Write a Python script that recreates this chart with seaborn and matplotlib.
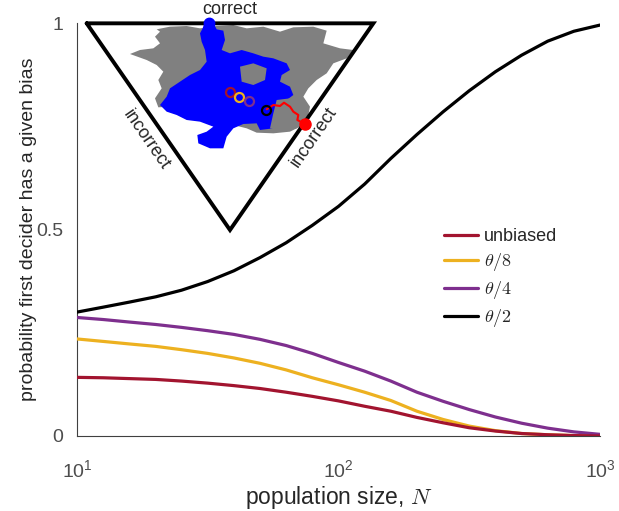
import numpy as np
import pandas as pd
import seaborn as sns
import matplotlib.pyplot as plt

sns.set_style('white')
plt.rcParams['font.family'] = ['Liberation Sans', 'DejaVu Sans']
plt.rcParams['mathtext.fontset'] = 'cm'

# curve data
N = [10, 12.6, 15.8, 20, 25.1, 31.6, 39.8, 50.1, 63.1, 79.4, 100,
     125.9, 158.5, 199.5, 251.2, 316.2, 398.1, 501.2, 631, 794.3, 1000]
unbiased = [0.142, 0.141, 0.139, 0.137, 0.133, 0.128, 0.122, 0.115, 0.106, 0.096, 0.085,
            0.072, 0.060, 0.045, 0.032, 0.020, 0.012, 0.006, 0.003, 0.001, 0.0]
theta8 = [0.235, 0.229, 0.223, 0.217, 0.209, 0.200, 0.189, 0.176, 0.160, 0.141, 0.124,
          0.106, 0.086, 0.060, 0.040, 0.024, 0.013, 0.006, 0.003, 0.001, 0.0]
theta4 = [0.287, 0.282, 0.276, 0.270, 0.263, 0.255, 0.246, 0.234, 0.219, 0.200, 0.178,
          0.157, 0.133, 0.106, 0.084, 0.064, 0.046, 0.031, 0.019, 0.010, 0.004]
theta2 = [0.300, 0.312, 0.324, 0.337, 0.353, 0.374, 0.400, 0.432, 0.468, 0.510, 0.556,
          0.610, 0.672, 0.730, 0.785, 0.836, 0.882, 0.922, 0.956, 0.980, 0.995]

labels = ['unbiased', r'$\theta/8$', r'$\theta/4$', r'$\theta/2$']
colors = ['#A2142F', '#EDB120', '#7E2F8E', 'black']

# inset schematic (inset pixel units)
triangle_x = [80, 940, 510, 80]
triangle_y = [70, 70, 690, 70]
gray_x = [290, 330, 380, 420, 470, 520, 560, 610, 660, 700, 760, 800, 790, 840, 880, 860, 820, 800, 770, 745,
          730, 750, 745, 720, 690, 640, 590, 560, 520, 490, 440, 400, 360, 330, 295, 285, 305, 295, 310, 290,
          260, 210, 240, 280, 300, 285, 300]
gray_y = [88, 80, 78, 85, 78, 75, 85, 80, 95, 82, 80, 92, 130, 145, 150, 175, 190, 220, 240, 265,
          290, 320, 345, 380, 395, 400, 398, 385, 375, 350, 340, 330, 330, 320, 322, 295, 265, 240, 215, 195,
          180, 162, 150, 145, 130, 110, 95]
blue_x = [432, 462, 470, 490, 495, 485, 510, 545, 580, 610, 640, 680, 690, 665, 660, 690, 700, 680, 650, 645,
          690, 680, 640, 600, 590, 550, 520, 500, 490, 450, 415, 412, 440, 460, 420, 380, 350, 320, 300, 320,
          330, 360, 390, 420, 440, 435, 425, 420, 428]
blue_y = [72, 72, 88, 92, 120, 150, 160, 150, 160, 170, 175, 190, 210, 225, 245, 260, 285, 300, 310, 330,
          345, 370, 385, 390, 370, 372, 385, 410, 445, 445, 430, 405, 395, 380, 365, 360, 345, 335, 315, 290,
          265, 245, 225, 210, 185, 150, 125, 100, 85]
patch_a_x = [540, 580, 620, 615, 580, 545]
patch_a_y = [200, 190, 205, 240, 255, 245]
patch_b_x = [650, 690, 715, 725, 710, 670, 630, 640]
patch_b_y = [300, 295, 320, 350, 385, 395, 385, 340]
walk_x = [620, 640, 660, 672, 690, 700, 715, 712, 735]
walk_y = [328, 315, 318, 308, 320, 335, 345, 360, 372]
start_x = [510, 538, 566, 619]
start_y = [277, 290, 302, 329]

fig = plt.figure(figsize=(6.19, 5.11), dpi=100)
ax = fig.add_axes([77 / 619, 1 - 436 / 511, 523 / 619, 413 / 511])

series = [unbiased, theta8, theta4, theta2]
zs = [5, 3, 3, 3]
for v, lab, c, z in zip(series, labels, colors, zs):
    sns.lineplot(x=N, y=v, ax=ax, color=c, lw=2.3, label=lab, zorder=z)

ax.set_xscale('log')
ax.set_xlim(10, 1000)
ax.set_ylim(0, 1)
ax.set_xticks([10, 100, 1000])
ax.set_xticklabels([r'$\mathregular{10^{1}}$', r'$\mathregular{10^{2}}$', r'$\mathregular{10^{3}}$'])
ax.set_yticks([0, 0.5, 1])
ax.set_yticklabels(['0', '0.5', '1'])
ax.minorticks_off()
ax.tick_params(length=0, labelsize=14, labelcolor='0.3')
ax.tick_params(axis='x', pad=17)
ax.tick_params(axis='y', pad=10)
for s in ['top', 'right']:
    ax.spines[s].set_visible(False)
for s in ['left', 'bottom']:
    ax.spines[s].set_color('0.25')
    ax.spines[s].set_linewidth(0.8)
ax.set_xlabel(r'population size, $N$', fontsize=16.5, labelpad=2)
ax.set_ylabel('probability first decider has a given bias', fontsize=14, labelpad=-1)

leg = ax.legend(loc='upper left', bbox_to_anchor=(435 / 619, 1 - 219 / 511), bbox_transform=fig.transFigure,
                frameon=False, fontsize=13, handlelength=1.9, handletextpad=0.3, labelspacing=0.34,
                borderpad=0)

# inset with the random walk schematic
ins = fig.add_axes([60 / 619, 1 - 240 / 511, 340 / 619, 240 / 511])
ins.set_xlim(0, 1020)
ins.set_ylim(720, 0)
ins.axis('off')
ins.patch.set_alpha(0)
ins.fill(gray_x, gray_y, color='#808080', lw=0)
ins.fill(blue_x, blue_y, color='#0000ff', lw=0)
ins.fill(patch_a_x, patch_a_y, color='#808080', lw=0)
ins.fill(patch_b_x, patch_b_y, color='#808080', lw=0)
ins.plot(walk_x, walk_y, color='red', lw=1.5)
ins.plot(triangle_x, triangle_y, color='black', lw=2.8, solid_joinstyle='miter')
for x, y, c in zip(start_x, start_y, colors):
    ins.plot(x, y, 'o', mfc='none', mec=c, mew=1.6, ms=6.5)
ins.plot(447, 68, 'o', color='#0000ff', ms=7.5)
ins.plot(735, 372, 'o', color='red', ms=8)
ins.text(510, 28, 'correct', ha='center', va='center', fontsize=13)
ins.text(258, 420, 'incorrect', ha='center', va='center', fontsize=13, rotation=-55.3, rotation_mode='anchor')
ins.text(760, 410, 'incorrect', ha='center', va='center', fontsize=13, rotation=55.3, rotation_mode='anchor')

fig.savefig('out.png', dpi=100)
